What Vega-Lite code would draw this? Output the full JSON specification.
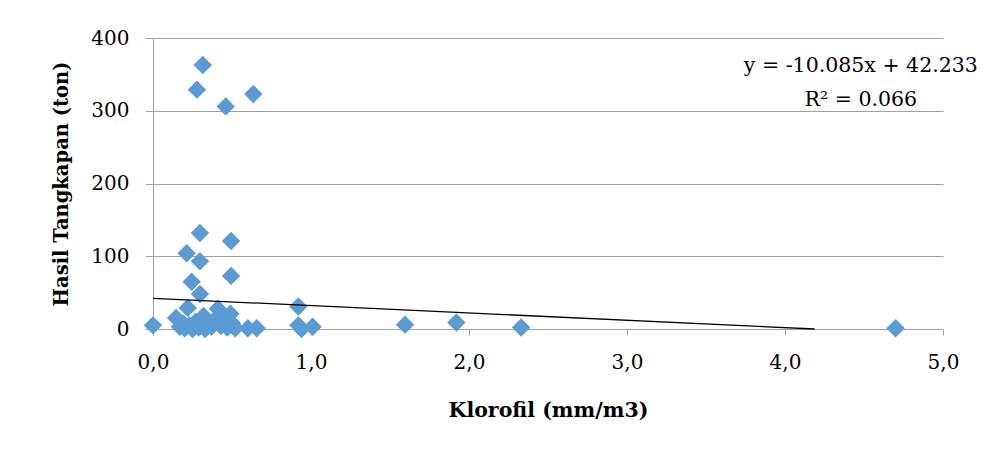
{
  "$schema": "https://vega.github.io/schema/vega-lite/v6.json",
  "width": 790,
  "height": 291,
  "autosize": "none",
  "padding": {"left": 153, "top": 38, "right": 40, "bottom": 126},
  "background": "white",
  "config": {"view": {"stroke": null}, "font": "DejaVu Serif"},
  "datasets": {
    "points": [
      {"klorofil": 0.0, "hasil": 5},
      {"klorofil": 0.315, "hasil": 363},
      {"klorofil": 0.278, "hasil": 329},
      {"klorofil": 0.46, "hasil": 306},
      {"klorofil": 0.635, "hasil": 323},
      {"klorofil": 0.297, "hasil": 132},
      {"klorofil": 0.494, "hasil": 121},
      {"klorofil": 0.213, "hasil": 104},
      {"klorofil": 0.297, "hasil": 93},
      {"klorofil": 0.494, "hasil": 73},
      {"klorofil": 0.245, "hasil": 65},
      {"klorofil": 0.297, "hasil": 48},
      {"klorofil": 0.92, "hasil": 31},
      {"klorofil": 0.22, "hasil": 29},
      {"klorofil": 0.41, "hasil": 28},
      {"klorofil": 0.49, "hasil": 21},
      {"klorofil": 0.146, "hasil": 15},
      {"klorofil": 0.17, "hasil": 3},
      {"klorofil": 0.19, "hasil": 8},
      {"klorofil": 0.2, "hasil": 1},
      {"klorofil": 0.23, "hasil": 5},
      {"klorofil": 0.25, "hasil": 0},
      {"klorofil": 0.27, "hasil": 10},
      {"klorofil": 0.29, "hasil": 2},
      {"klorofil": 0.32, "hasil": 18},
      {"klorofil": 0.33, "hasil": 0},
      {"klorofil": 0.35, "hasil": 6},
      {"klorofil": 0.37, "hasil": 3},
      {"klorofil": 0.39, "hasil": 12},
      {"klorofil": 0.43, "hasil": 4},
      {"klorofil": 0.45, "hasil": 14},
      {"klorofil": 0.47, "hasil": 2},
      {"klorofil": 0.5, "hasil": 8},
      {"klorofil": 0.52, "hasil": 1},
      {"klorofil": 0.6, "hasil": 1},
      {"klorofil": 0.656, "hasil": 1},
      {"klorofil": 0.92, "hasil": 5},
      {"klorofil": 0.94, "hasil": 0},
      {"klorofil": 1.01, "hasil": 3},
      {"klorofil": 1.595, "hasil": 6},
      {"klorofil": 1.92, "hasil": 9},
      {"klorofil": 2.33, "hasil": 2},
      {"klorofil": 4.7, "hasil": 1}
    ],
    "trend": [
      {"klorofil": 0, "hasil": 42.233},
      {"klorofil": 4.188, "hasil": 0}
    ],
    "labels": [
      {"klorofil": 4.48, "hasil": 362, "text": "y = -10.085x + 42.233"},
      {"klorofil": 4.48, "hasil": 315, "text": "R² = 0.066"}
    ]
  },
  "layer": [
    {
      "data": {"name": "points"},
      "mark": {"type": "point", "shape": "diamond", "filled": true, "size": 340, "color": "#5B9BD5", "opacity": 1, "clip": false},
      "encoding": {
        "x": {
          "field": "klorofil", "type": "quantitative",
          "scale": {"domain": [0, 5], "nice": false, "zero": true},
          "axis": {
            "title": "Klorofil (mm/m3)",
            "values": [0, 1, 2, 3, 4, 5],
            "labelExpr": "replace(format(datum.value, '.1f'), '.', ',')",
            "labelFlush": false,
            "grid": false,
            "domainColor": "#a0a0a0",
            "tickColor": "#a0a0a0",
            "tickSize": 6,
            "labelPadding": 17,
            "labelFont": "DejaVu Serif",
            "labelFontSize": 20,
            "labelColor": "black",
            "titleFont": "DejaVu Serif",
            "titleFontSize": 20.5,
            "titleFontWeight": "bold",
            "titleColor": "black",
            "titlePadding": 28
          }
        },
        "y": {
          "field": "hasil", "type": "quantitative",
          "scale": {"domain": [0, 400], "nice": false},
          "axis": {
            "title": "Hasil Tangkapan (ton)",
            "values": [0, 100, 200, 300, 400],
            "labelFlush": false,
            "grid": true,
            "gridColor": "#a0a0a0",
            "domainColor": "#a0a0a0",
            "tickColor": "#a0a0a0",
            "tickSize": 8,
            "labelPadding": 16,
            "labelFont": "DejaVu Serif",
            "labelFontSize": 20,
            "labelColor": "black",
            "titleFont": "DejaVu Serif",
            "titleFontSize": 19.5,
            "titleFontWeight": "bold",
            "titleColor": "black",
            "titlePadding": 19
          }
        }
      }
    },
    {
      "data": {"name": "trend"},
      "mark": {"type": "line", "color": "black", "strokeWidth": 1.3},
      "encoding": {
        "x": {"field": "klorofil", "type": "quantitative"},
        "y": {"field": "hasil", "type": "quantitative"}
      }
    },
    {
      "data": {"name": "labels"},
      "mark": {"type": "text", "font": "DejaVu Serif", "fontSize": 20.5, "color": "black", "align": "center", "baseline": "middle", "clip": false},
      "encoding": {
        "x": {"field": "klorofil", "type": "quantitative"},
        "y": {"field": "hasil", "type": "quantitative"},
        "text": {"field": "text"}
      }
    }
  ]
}
